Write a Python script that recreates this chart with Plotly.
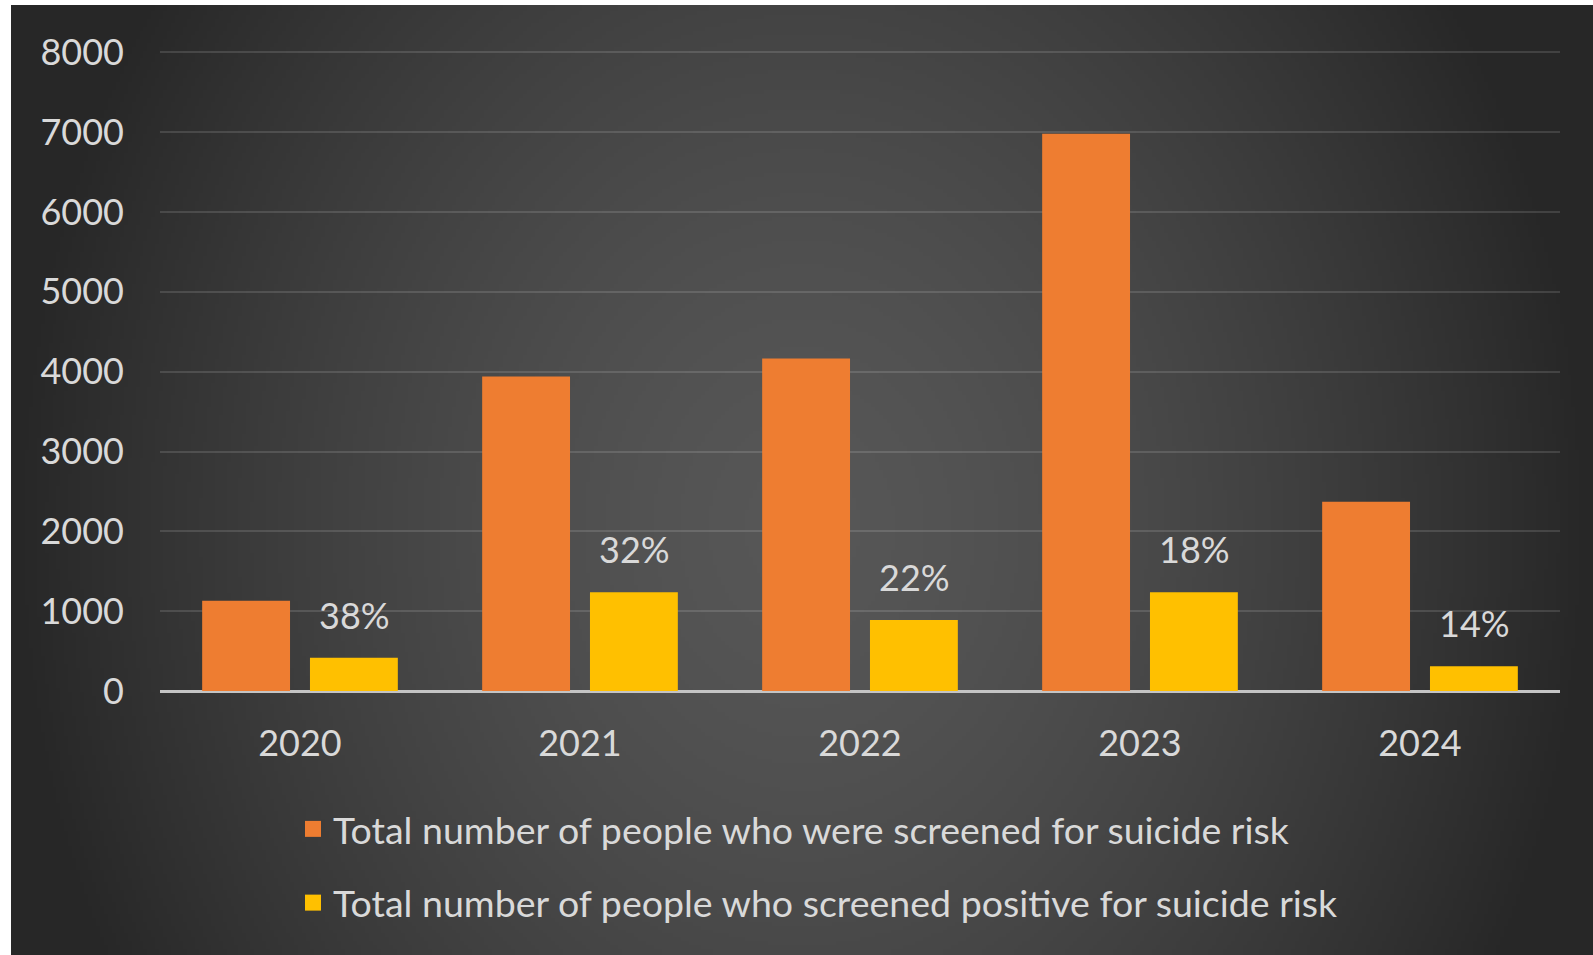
import base64
import struct
import zlib

import numpy as np
import plotly.graph_objects as go

# ---- data ----
years = ["2020", "2021", "2022", "2023", "2024"]
screened = [1130, 3940, 4165, 6980, 2370]
positive = [415, 1236, 890, 1236, 310]
pct_labels = ["38%", "32%", "22%", "18%", "14%"]
series_names = [
    "Total number of people who were screened for suicide risk",
    "Total number of people who screened positive for suicide risk",
]
y_ticks = [0, 1000, 2000, 3000, 4000, 5000, 6000, 7000, 8000]

# ---- style ----
W, H = 1593, 955
ML, MR, MT, MB = 160, 33, 50, 264
PW, PH = W - ML - MR, H - MT - MB
ORANGE = "#EE7D31"
GOLD = "#FFC000"
TXT = "#D9D9D9"
FONT = "Lato, 'Open Sans', sans-serif"


def png_data_uri(arr):
    h, w, _ = arr.shape
    raw = b"".join(b"\x00" + arr[i].tobytes() for i in range(h))

    def chunk(tag, data):
        c = tag + data
        return struct.pack(">I", len(data)) + c + struct.pack(">I", zlib.crc32(c) & 0xFFFFFFFF)

    png = b"\x89PNG\r\n\x1a\n"
    png += chunk(b"IHDR", struct.pack(">IIBBBBB", w, h, 8, 2, 0, 0, 0))
    png += chunk(b"IDAT", zlib.compress(raw, 9))
    png += chunk(b"IEND", b"")
    return "data:image/png;base64," + base64.b64encode(png).decode()


# radial gradient background (image region excludes white border: left 11px, top 5px)
BX, BY = 11, 5
gw, gh = 400, 240
xs = (np.arange(gw) + 0.5) / gw
ys = (np.arange(gh) + 0.5) / gh
X, Y = np.meshgrid(xs, ys)
dx = (X - 0.5) / 0.5
dy = (Y - 0.55) * (H - BY) / H
d = np.clip(np.sqrt(dx ** 2 + dy ** 2), 0, 1)
c0, c1 = 0x57, 0x27
val = c0 - (c0 - c1) * d ** 1.5
img = np.stack([val, val, val], axis=-1).astype(np.uint8)
bg_uri = png_data_uri(img)

fig = go.Figure()
fig.add_trace(go.Bar(x=years, y=screened, name=series_names[0], marker=dict(color=ORANGE, line=dict(width=0)),
                     showlegend=False))
fig.add_trace(go.Bar(x=years, y=positive, name=series_names[1], marker=dict(color=GOLD, line=dict(width=0)),
                     showlegend=False))
# legend entries (on a hidden overlay axis pair so they do not affect the category axis)
for name, col, grp in [(series_names[0], ORANGE, "a"), (series_names[1], GOLD, "b")]:
    fig.add_trace(go.Scatter(x=[None], y=[None], mode="markers", name=name, legendgroup=grp,
                             xaxis="x2", yaxis="y2",
                             marker=dict(symbol="square", size=20, color=col)))

# percentage labels above the yellow bars (x given as category index)
for i, (v, lab) in enumerate(zip(positive, pct_labels)):
    fig.add_annotation(x=i, y=v, text=lab, showarrow=False, xshift=54, yshift=43,
                       yanchor="middle", font=dict(family=FONT, size=36, color=TXT))

fig.add_layout_image(
    source=bg_uri, xref="paper", yref="paper",
    x=(BX - ML) / PW, y=1 + (MT - BY) / PH,
    sizex=(W - BX) / PW, sizey=(H - BY) / PH,
    xanchor="left", yanchor="top", sizing="stretch", layer="below",
)

fig.update_layout(
    width=W, height=H,
    margin=dict(l=ML, r=MR, t=MT, b=MB),
    paper_bgcolor="white",
    plot_bgcolor="rgba(0,0,0,0)",
    barmode="group", bargap=0.23, bargroupgap=0.185,
    font=dict(family=FONT, size=36, color=TXT),
    legend=dict(x=(293 - ML) / PW, xanchor="left", y=-(798 - (H - MB)) / PH, yanchor="top",
                orientation="v", bgcolor="rgba(0,0,0,0)", tracegroupgap=22,
                font=dict(family=FONT, size=37.5, color=TXT)),
    xaxis=dict(type="category", categoryorder="array", categoryarray=years, range=[-0.5, len(years) - 0.5],
               showgrid=False, ticks="", showline=False, ticklabelstandoff=28,
               tickfont=dict(size=36, color=TXT)),
    yaxis=dict(range=[0, 8030], tickvals=y_ticks, showgrid=True, gridcolor="rgba(255,255,255,0.13)",
               gridwidth=2, zeroline=True, zerolinecolor="#C4C4C4", zerolinewidth=3, ticks="",
               ticklabelstandoff=35, tickfont=dict(size=36, color=TXT)),
    xaxis2=dict(overlaying="x", visible=False, range=[0, 1]),
    yaxis2=dict(overlaying="y", visible=False, range=[0, 1]),
)

fig.write_html("out.html", config={"displayModeBar": False},
               post_script="document.body.style.margin='0';document.body.style.overflow='hidden';")
